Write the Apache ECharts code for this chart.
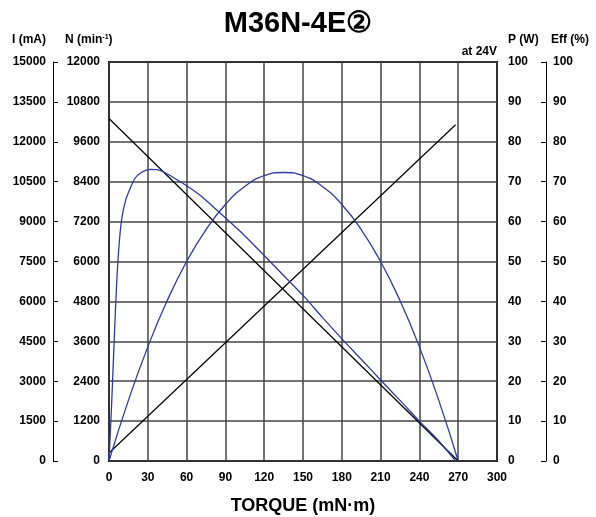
<!DOCTYPE html>
<html>
<head>
<meta charset="utf-8">
<script src="https://cdn.jsdelivr.net/npm/echarts@6/dist/echarts.min.js"></script>
<style>
  html, body { margin: 0; padding: 0; background: #fff; }
  #chart { width: 596px; height: 517px; }
</style>
</head>
<body>
<div id="chart"></div>
<script>
// torque axis (mN·m)
var torqueTicks = [0, 30, 60, 90, 120, 150, 180, 210, 240, 270, 300]

// speed N (min-1), straight line
var speedT = [0, 270]
var speedVals = [10300, 0]

// current I (mA), straight line
var currentT = [0, 268]
var currentVals = [300, 12640]

// output power P (W)
var powerT = [0, 15, 30, 45, 60, 75, 90, 105, 120, 135, 150, 165, 180, 195, 210, 225, 240, 255, 270]
var powerVals = [0, 15.2, 28.6, 40.2, 50.0, 58.0, 64.3, 68.8, 71.5, 72.3, 71.5, 68.8, 64.3, 58.0, 50.0, 40.2, 28.6, 15.2, 0]

// efficiency Eff (%)
var effT = [0, 2, 4, 6, 8, 10, 13, 16, 20, 25, 32, 40, 50, 60, 70, 86, 100, 120, 135, 150, 165, 181, 195, 210, 225, 240, 255, 268]
var effVals = [0, 14, 30, 45, 55, 61, 65.5, 68, 70.8, 72.3, 73.1, 72.8, 71, 69, 66.7, 62.1, 58, 51.5, 46.5, 41.5, 36, 30.3, 25.5, 20.3, 15.2, 10, 5, 0]

function pairs(xs, ys) {
  return xs.map(function (x, i) { return [x, ys[i]] })
}

var FONT = 'Liberation Sans'
var BLUE = '#2e3d9b'
var plain = function (v) { return String(v) }
var labelStyle = { color: '#000', fontSize: 12, fontWeight: 'bold', fontFamily: FONT, formatter: plain }

var chart = echarts.init(document.getElementById('chart'), null, { renderer: 'canvas' })

var option = {
  backgroundColor: '#fff',
  animation: false,
  title: {
    text: 'M36N-4E②',
    left: 'center',
    top: 4,
    textStyle: { color: '#000', fontSize: 29, fontWeight: 'bold', fontFamily: FONT }
  },
  grid: {
    left: 109,
    right: 99,
    top: 62,
    bottom: 56,
    show: true,
    borderColor: '#000',
    borderWidth: 2,
    outerBoundsMode: 'none'
  },
  xAxis: {
    type: 'value',
    min: 0,
    max: 300,
    interval: 30,
    name: 'TORQUE (mN·m)',
    nameLocation: 'middle',
    nameGap: 36,
    nameTextStyle: { color: '#000', fontSize: 18, fontWeight: 'bold', fontFamily: FONT },
    axisLine: { show: false },
    axisTick: { show: false },
    axisLabel: Object.assign({ margin: 11, showMinLabel: true, showMaxLabel: true }, labelStyle),
    splitLine: { show: true, lineStyle: { color: '#444', width: 1.5 } }
  },
  yAxis: [
    { // N
      type: 'value', position: 'left', offset: 0,
      min: 0, max: 12000, interval: 1200,
      axisLine: { show: false },
      axisTick: { show: false },
      axisLabel: Object.assign({ margin: 9, padding: [0, 0, 8, 0] }, labelStyle),
      splitLine: { show: true, lineStyle: { color: '#444', width: 1.5 } }
    },
    { // I
      type: 'value', position: 'left', offset: 56,
      min: 0, max: 15000, interval: 1500,
      axisLine: { show: true, lineStyle: { color: '#000', width: 1 } },
      axisTick: { show: true, inside: true, length: 5, lineStyle: { color: '#000', width: 1 } },
      axisLabel: Object.assign({ margin: 7, padding: [0, 0, 8, 0] }, labelStyle),
      splitLine: { show: false }
    },
    { // P
      type: 'value', position: 'right', offset: 0,
      min: 0, max: 100, interval: 10,
      axisLine: { show: false },
      axisTick: { show: false },
      axisLabel: Object.assign({ margin: 11, padding: [0, 0, 8, 0] }, labelStyle),
      splitLine: { show: false }
    },
    { // Eff
      type: 'value', position: 'right', offset: 49,
      min: 0, max: 100, interval: 10,
      axisLine: { show: true, lineStyle: { color: '#000', width: 1 } },
      axisTick: { show: true, inside: true, length: 5, lineStyle: { color: '#000', width: 1 } },
      axisLabel: Object.assign({ margin: 7, padding: [0, 0, 8, 0] }, labelStyle),
      splitLine: { show: false }
    }
  ],
  graphic: [
    { type: 'text', x: 12, y: 40, style: { text: 'I (mA)', fill: '#000', font: 'bold 12px "Liberation Sans"', verticalAlign: 'middle' } },
    {
      type: 'text', x: 65, y: 40,
      style: {
        text: '{a|N (min}{s|-1}{a|)}',
        verticalAlign: 'middle',
        rich: {
          a: { fontSize: 12, fontWeight: 'bold', fontFamily: FONT, fill: '#000' },
          s: { fontSize: 7, fontWeight: 'bold', fontFamily: FONT, fill: '#000', padding: [0, 0, 6, 0] }
        }
      }
    },
    { type: 'text', x: 508, y: 40, style: { text: 'P (W)', fill: '#000', font: 'bold 12px "Liberation Sans"', verticalAlign: 'middle' } },
    { type: 'text', x: 551, y: 40, style: { text: 'Eff (%)', fill: '#000', font: 'bold 12px "Liberation Sans"', verticalAlign: 'middle' } },
    { type: 'text', x: 497, y: 52, style: { text: 'at 24V', fill: '#000', font: 'bold 12px "Liberation Sans"', align: 'right', verticalAlign: 'middle' } }
  ],
  series: [
    {
      name: 'N', type: 'line', yAxisIndex: 0, symbol: 'none',
      lineStyle: { color: '#000', width: 1.2 },
      data: pairs(speedT, speedVals)
    },
    {
      name: 'I', type: 'line', yAxisIndex: 1, symbol: 'none',
      lineStyle: { color: '#000', width: 1.2 },
      data: pairs(currentT, currentVals)
    },
    {
      name: 'P', type: 'line', yAxisIndex: 2, symbol: 'none', smooth: true,
      lineStyle: { color: BLUE, width: 1.3 },
      data: pairs(powerT, powerVals)
    },
    {
      name: 'Eff', type: 'line', yAxisIndex: 3, symbol: 'none', smooth: 0.3,
      lineStyle: { color: BLUE, width: 1.3 },
      data: pairs(effT, effVals)
    }
  ]
}

chart.setOption(option)
</script>
</body>
</html>
